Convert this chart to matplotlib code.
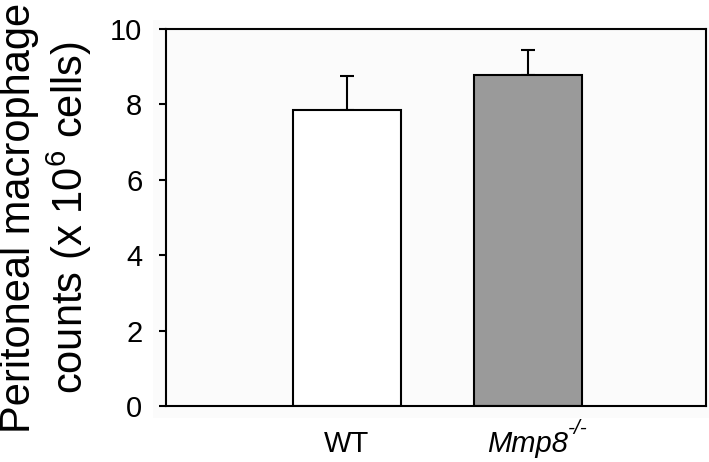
import matplotlib
matplotlib.use("Agg")
import matplotlib.pyplot as plt
from matplotlib.patches import Rectangle

# data
groups = ["WT", "Mmp8"]
group_sup = ["", "-/-"]
means = [7.85, 8.78]
sem_upper = [0.90, 0.66]
bar_colors = ["white", "#9a9a9a"]
yticks = [0, 2, 4, 6, 8, 10]

plt.rcParams["font.family"] = ["Liberation Sans", "DejaVu Sans"]
plt.rcParams["mathtext.fontset"] = "custom"
plt.rcParams["mathtext.rm"] = "Liberation Sans"
plt.rcParams["mathtext.it"] = "Liberation Sans:italic"

fig = plt.figure(figsize=(7.09, 4.62), dpi=100)
# faint chart-area background behind the plot
fig.patches.append(Rectangle((153 / 709, 44 / 462), 556 / 709, 398 / 462,
                             transform=fig.transFigure, facecolor="#fbfbfb",
                             edgecolor="none", zorder=-5))

ax = fig.add_axes([166 / 709, 56 / 462, 540 / 709, 377 / 462])
ax.set_zorder(2)
ax.set_facecolor("#fbfbfb")

x = [0, 1]
ax.bar(x, means, width=0.6, color=bar_colors, edgecolor="black",
       linewidth=1.5, zorder=2)
ax.errorbar(x, means, yerr=[[0, 0], sem_upper], fmt="none", ecolor="black",
            elinewidth=1.5, capsize=4.8, capthick=1.5, zorder=1)

ax.set_xlim(-1.0, 1.985)
ax.set_ylim(0, 10)
ax.set_yticks(yticks)
ax.set_xticks(x)
labels = ax.set_xticklabels(groups)
labels[1].set_fontstyle("italic")

for s in ax.spines.values():
    s.set_linewidth(1.5)
    s.set_color("black")

ax.tick_params(axis="y", direction="out", length=5, width=1.5,
               labelsize=21, pad=12)
ax.tick_params(axis="x", length=0, labelsize=21, pad=17)

# superscript genotype marks next to the tick labels
for lab, sup in zip(labels, group_sup):
    if sup:
        ax.annotate(sup, xy=(1.0, 0.70), xycoords=lab, ha="left", va="bottom",
                    fontsize=15, fontstyle="italic", annotation_clip=False)

fig.text(0.066, 1 - 217.5 / 462,
         "Peritoneal macrophage\n" + r"counts (x 10$^{6}$ cells)",
         rotation=90, ha="center", va="center", fontsize=30,
         linespacing=1.15, multialignment="center")

fig.savefig("out.png", dpi=100)
